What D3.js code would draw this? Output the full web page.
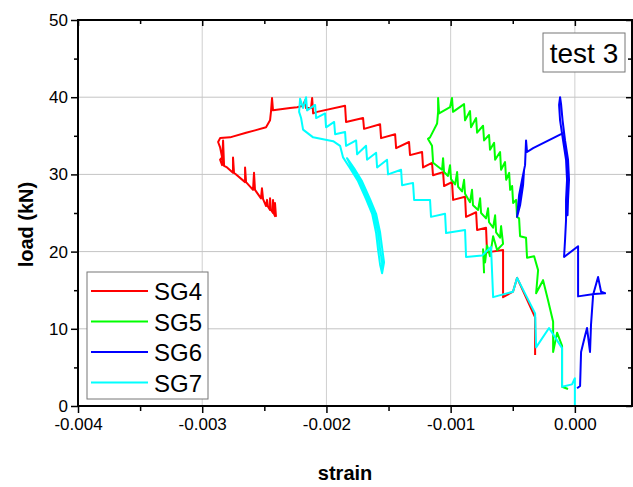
<!DOCTYPE html>
<html>
<head>
<meta charset="utf-8">
<script src="https://cdn.jsdelivr.net/npm/d3@7"></script>
<style>
  body { margin: 0; background: #fff; }
  svg { display: block; font-family: "Liberation Sans", Arial, sans-serif; }
</style>
</head>
<body>
<div id="chart"></div>
<script>
// strain in microstrain, load in kN
const seriesNames = ["SG4", "SG5", "SG6", "SG7"];

const sg4 = [
  [-320,6.6],[-320,11.5],[-465,16.6],[-498,14.8],[-578,14.1],[-578,20.2],[-707,19.9],[-715,23.1],
  [-787,22.8],[-795,25.1],[-876,24.5],[-884,27.1],[-980,26.7],[-989,29.0],[-1053,28.5],[-1061,30.3],
  [-1142,29.9],[-1150,31.5],[-1222,30.9],[-1230,32.9],[-1327,32.5],[-1335,34.2],[-1439,33.4],[-1447,35.2],
  [-1560,34.7],[-1568,36.5],[-1697,35.9],[-1705,37.3],[-1842,36.8],[-1850,38.9],[-2075,38.1],[-2107,37.9],
  [-2115,39.9],[-2124,38.6],[-2164,38.6],[-2172,39.6],[-2188,38.9],[-2236,38.7],[-2293,38.6],[-2430,38.3],
  [-2438,39.9],[-2446,38.2],[-2454,37.0],[-2486,36.1],[-2575,35.7],[-2647,35.4],[-2776,34.8],[-2856,34.7],
  [-2872,34.2],[-2856,33.5],[-2840,32.2],[-2856,31.9],[-2840,31.2],[-2832,34.4],[-2824,31.1],[-2800,30.9],
  [-2752,30.2],[-2752,32.2],[-2744,30.2],[-2655,29.0],[-2655,30.9],[-2647,29.0],[-2591,28.0],[-2583,30.2],
  [-2575,28.0],[-2527,26.9],[-2519,28.2],[-2510,26.8],[-2486,25.9],[-2478,26.7],[-2470,25.8],[-2454,25.4],
  [-2454,26.9],[-2446,25.4],[-2430,25.0],[-2430,26.7],[-2422,24.9],[-2414,24.6],[-2414,26.3],[-2406,24.5]
];

const sg5 = [
  [-731,17.2],[-739,20.3],[-723,18.6],[-707,20.8],[-683,19.4],[-658,22.0],[-626,20.2],[-578,21.0],
  [-594,23.3],[-602,21.8],[-634,22.5],[-642,24.7],[-658,23.1],[-691,23.8],[-699,25.6],[-715,24.3],
  [-755,25.0],[-763,26.9],[-779,25.4],[-820,26.0],[-828,28.0],[-844,26.4],[-884,27.5],[-892,29.3],
  [-908,27.8],[-940,28.4],[-948,30.3],[-964,28.7],[-997,29.4],[-1005,31.2],[-1021,29.8],[-1053,30.3],
  [-1061,32.1],[-1069,30.6],[-1101,31.0],[-1141,31.5],[-1150,33.7],[-1182,34.6],[-1166,34.8],[-1109,36.6],
  [-1101,38.1],[-1101,39.9],[-1093,37.9],[-1005,38.7],[-989,39.9],[-981,38.1],[-892,39.1],[-884,37.0],
  [-844,38.2],[-836,36.1],[-795,37.3],[-787,35.4],[-739,36.3],[-731,34.4],[-691,35.1],[-683,33.2],
  [-650,34.1],[-642,31.9],[-602,32.9],[-594,30.6],[-562,31.6],[-553,29.3],[-529,30.2],[-521,28.0],
  [-505,28.5],[-497,26.3],[-473,26.7],[-465,24.5],[-449,24.3],[-441,22.0],[-393,21.8],[-385,19.2],
  [-328,19.4],[-296,17.6],[-312,14.6],[-256,16.3],[-216,13.7],[-175,10.9],[-175,7.0],[-143,9.5],
  [-103,7.8],[-103,2.5],[-55,2.2]
];

const sg6 = [
  [18,2.3],[42,2.6],[50,7.0],[82,9.1],[98,10.1],[122,7.0],[130,10.5],[147,14.4],[187,16.7],[211,14.8],
  [243,14.6],[155,14.5],[26,14.2],[26,20.7],[-87,19.3],[-79,21.5],[-71,24.1],[-71,26.7],[-63,29.3],
  [-71,31.9],[-95,34.4],[-119,37.0],[-127,39.0],[-119,40.0],[-111,39.1],[-99,37.0],[-79,34.4],[-55,31.9],
  [-47,29.3],[-55,26.7],[-59,24.7],[-63,27.3],[-59,30.6],[-71,33.2],[-87,35.4],[-336,33.4],[-385,32.9],
  [-393,34.4],[-401,31.2],[-425,29.3],[-449,27.3],[-465,24.5],[-441,26.0],[-417,28.6],[-409,30.6],
  [-433,28.0],[-457,25.4]
];

const sg7 = [
  [0,0],[0,3.6],[-23,2.8],[-103,2.5],[-103,7.5],[-208,10.1],[-312,7.6],[-320,12.0],[-465,16.6],
  [-498,14.8],[-658,14.1],[-675,20.6],[-747,19.5],[-876,19.3],[-884,22.8],[-1037,22.4],[-1045,24.9],
  [-1158,24.5],[-1166,26.7],[-1294,26.7],[-1303,28.9],[-1391,28.6],[-1399,30.6],[-1504,30.0],[-1512,31.9],
  [-1592,30.9],[-1600,32.8],[-1673,31.9],[-1681,33.7],[-1753,32.6],[-1761,34.4],[-1842,33.7],[-1850,35.5],
  [-1930,35.2],[-1938,36.8],[-2003,36.1],[-2011,37.9],[-2083,37.3],[-2091,39.0],[-2156,38.3],[-2164,40.0],
  [-2188,38.6],[-2212,39.8],[-2220,38.1],[-2204,37.3],[-2188,35.8],[-2107,34.8],[-1946,34.3],[-1890,33.7],
  [-1866,32.2],[-1810,30.8],[-1745,29.1],[-1681,26.8],[-1632,24.9],[-1600,22.4],[-1584,20.2],[-1568,18.3],
  [-1552,17.2],[-1536,18.6],[-1552,20.5],[-1568,22.5],[-1600,24.9],[-1649,26.8],[-1713,29.1],[-1777,30.8],
  [-1834,32.1],[-1794,30.8],[-1729,29.1],[-1665,26.8],[-1616,24.9],[-1584,22.5],[-1568,20.3],[-1552,18.6],
  [-1552,17.2]
];

const xTicks = [-0.004, -0.003, -0.002, -0.001, 0];
const xMinor = [-0.0035, -0.0025, -0.0015, -0.0005];
const yTicks = [0, 10, 20, 30, 40, 50];
const yMinor = [5, 15, 25, 35, 45];

const allSeries = [sg4, sg5, sg6, sg7];
const colors = ["#ff0000", "#00ff00", "#0000ff", "#00ffff"];

// Kích thước
const W = 633, H = 487;
const margin = { top: 20, right: 1, bottom: 81, left: 78 },
      width = W - margin.left - margin.right,
      height = H - margin.top - margin.bottom;

const svg = d3.select("#chart").append("svg")
    .attr("width", W)
    .attr("height", H);

const g = svg.append("g")
    .attr("transform", `translate(${margin.left},${margin.top})`);

const x = d3.scaleLinear().domain([-0.004, 0.00046]).range([0, width]);
const y = d3.scaleLinear().domain([0, 50]).range([height, 0]);

// grid
g.append("g").selectAll("line.gx")
  .data(xTicks.slice(1))
  .enter().append("line")
    .attr("x1", d => x(d)).attr("x2", d => x(d))
    .attr("y1", 0).attr("y2", height)
    .attr("stroke", "#cfcfcf").attr("stroke-width", 1);

g.append("g").selectAll("line.gy")
  .data(yTicks.slice(1, -1))
  .enter().append("line")
    .attr("x1", 0).attr("x2", width)
    .attr("y1", d => y(d)).attr("y2", d => y(d))
    .attr("stroke", "#c4c4c4").attr("stroke-width", 1);

// curves
g.append("clipPath").attr("id", "clip")
  .append("rect").attr("width", width).attr("height", height);

const line = d3.line()
    .x(d => x(d[0] / 1e6))
    .y(d => y(d[1]));

g.append("g").attr("clip-path", "url(#clip)")
  .selectAll("path")
  .data(allSeries)
  .enter().append("path")
    .attr("d", line)
    .attr("fill", "none")
    .attr("stroke", (d, i) => colors[i])
    .attr("stroke-width", 2)
    .attr("stroke-linejoin", "round");

// axes
const fmtX = d => d.toFixed(3);

function styleAxis(sel) {
  sel.select(".domain").remove();
  sel.selectAll(".tick line").attr("stroke", "#000").attr("stroke-width", 1.5);
  sel.selectAll("text").attr("font-size", 17).attr("fill", "#000");
}

g.append("g")
  .attr("transform", `translate(0,${height})`)
  .call(d3.axisBottom(x).tickValues(xTicks).tickFormat(fmtX).tickSize(7).tickPadding(5))
  .call(styleAxis);
g.append("g")
  .attr("transform", `translate(0,${height})`)
  .call(d3.axisBottom(x).tickValues(xMinor).tickFormat("").tickSize(5))
  .call(styleAxis);

g.append("g")
  .call(d3.axisLeft(y).tickValues(yTicks).tickSize(7).tickPadding(3))
  .call(styleAxis);
g.append("g")
  .call(d3.axisLeft(y).tickValues(yMinor).tickFormat("").tickSize(4))
  .call(styleAxis);

g.append("g")
  .call(d3.axisTop(x).tickValues(xTicks).tickFormat("").tickSize(-6))
  .call(styleAxis);
g.append("g")
  .call(d3.axisTop(x).tickValues(xMinor).tickFormat("").tickSize(-4))
  .call(styleAxis);

g.append("g")
  .attr("transform", `translate(${width},0)`)
  .call(d3.axisRight(y).tickValues(yTicks).tickFormat("").tickSize(-6))
  .call(styleAxis);
g.append("g")
  .attr("transform", `translate(${width},0)`)
  .call(d3.axisRight(y).tickValues(yMinor).tickFormat("").tickSize(-4))
  .call(styleAxis);

// frame
g.append("rect")
  .attr("width", width).attr("height", height)
  .attr("fill", "none").attr("stroke", "#000").attr("stroke-width", 2);

// axis titles
svg.append("text")
  .attr("x", margin.left + x(-0.00185)).attr("y", 480)
  .attr("text-anchor", "middle")
  .attr("font-size", 20).attr("font-weight", "bold")
  .text("strain");

svg.append("text")
  .attr("transform", `translate(33,${margin.top + y(23.5)}) rotate(-90)`)
  .attr("text-anchor", "middle")
  .attr("font-size", 20).attr("font-weight", "bold")
  .text("load (kN)");

// test label
const tb = svg.append("g").attr("transform", "translate(543,33)");
tb.append("rect").attr("width", 82).attr("height", 39)
  .attr("fill", "#fff").attr("stroke", "#777").attr("stroke-width", 1);
tb.append("text").attr("x", 41).attr("y", 30)
  .attr("text-anchor", "middle").attr("font-size", 28)
  .text("test 3");

// legend
const lg = svg.append("g").attr("transform", "translate(87,272)");
lg.append("rect").attr("width", 121).attr("height", 127)
  .attr("fill", "#fff").attr("stroke", "#777").attr("stroke-width", 1);
const item = lg.selectAll("g.item")
  .data(seriesNames)
  .enter().append("g")
    .attr("transform", (d, i) => `translate(0,${19 + i * 30.5})`);
item.append("line")
  .attr("x1", 4).attr("x2", 61)
  .attr("stroke", (d, i) => colors[i]).attr("stroke-width", 2);
item.append("text")
  .attr("x", 67).attr("y", 9)
  .attr("font-size", 24)
  .text(d => d);
</script>
</body>
</html>
